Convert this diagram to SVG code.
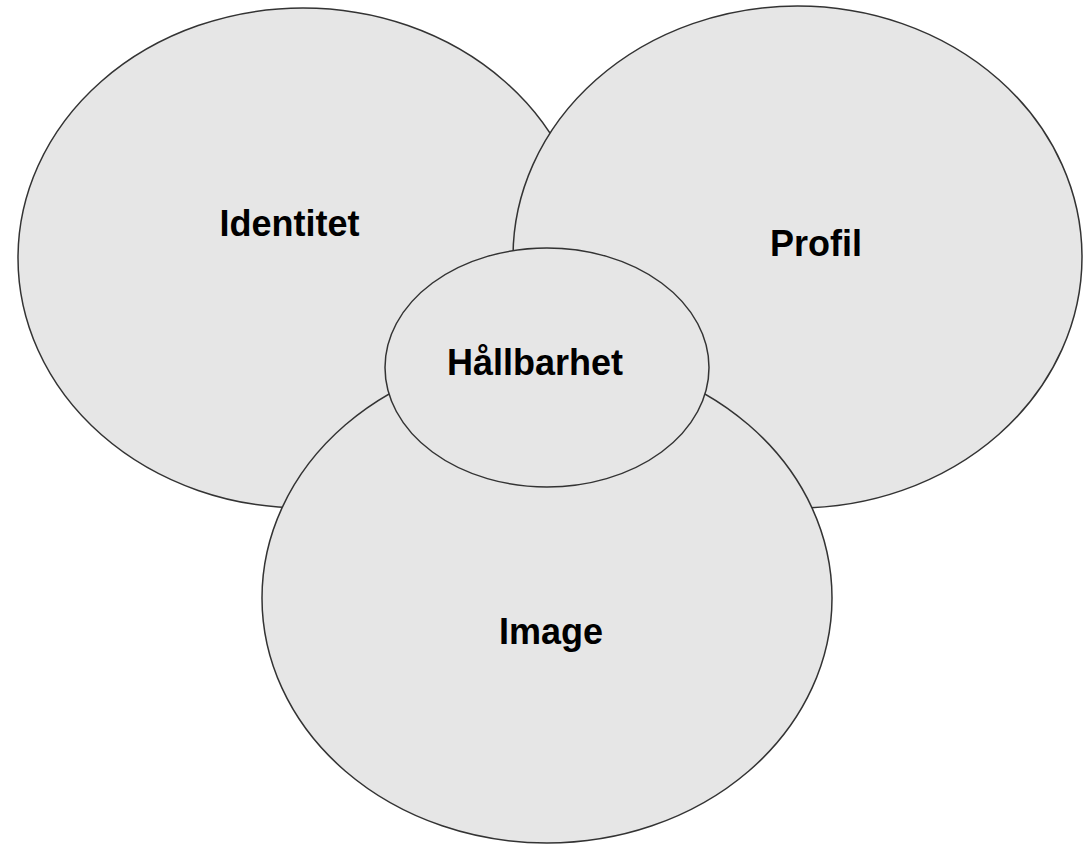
<svg xmlns="http://www.w3.org/2000/svg" width="1084" height="850" viewBox="0 0 1084 850">
  <style>
    .shape { fill: #e6e6e6; stroke: #333333; stroke-width: 1.5; }
    .label { font-family: "Liberation Sans", Arial, sans-serif; font-weight: bold; font-size: 36px; fill: #000000; text-anchor: middle; }
  </style>
  <rect width="1084" height="850" fill="#ffffff"/>
  <g id="connectors"></g>
  <g id="identitet">
    <ellipse class="shape" cx="303" cy="258" rx="285" ry="250"/>
    <text class="label" x="289.5" y="236">Identitet</text>
  </g>
  <g id="profil">
    <ellipse class="shape" cx="797.5" cy="257" rx="284.5" ry="251"/>
    <text class="label" x="816" y="256">Profil</text>
  </g>
  <g id="image">
    <ellipse class="shape" cx="547" cy="598" rx="285" ry="245"/>
    <text class="label" x="551" y="644">Image</text>
  </g>
  <g id="hallbarhet">
    <ellipse class="shape" cx="547" cy="367.5" rx="162" ry="119.5"/>
    <text class="label" x="535" y="375">Hållbarhet</text>
  </g>
</svg>
